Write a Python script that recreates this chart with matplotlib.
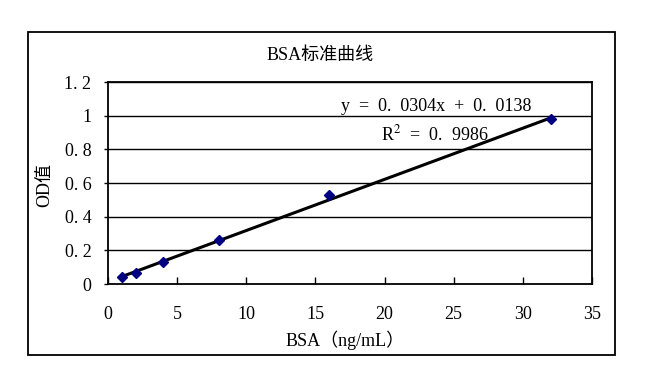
import matplotlib.pyplot as plt
from matplotlib.patches import Rectangle

plt.rcParams['font.family'] = ['Liberation Serif', 'Noto Sans CJK SC']
plt.rcParams['mathtext.fontset'] = 'stix'

# 数据
conc = [1, 2, 4, 8, 16, 32]
od = [0.042, 0.063, 0.129, 0.261, 0.527, 0.978]
slope = 0.0304
intercept = 0.0138
r2 = 0.9986
x_ticks = [0, 5, 10, 15, 20, 25, 30, 35]
y_ticks = [0, 0.2, 0.4, 0.6, 0.8, 1.0, 1.2]
y_tick_labels = ['0', '0. 2', '0. 4', '0. 6', '0. 8', '1', '1. 2']

fig = plt.figure(figsize=(6.64, 3.82), dpi=100)

# 外框
fig.patches.append(Rectangle((0.0422, 0.0707), 0.884, 0.8455, transform=fig.transFigure,
                             fill=False, edgecolor='black', linewidth=1.3))

ax = fig.add_axes([0.1627, 0.2565, 0.7289, 0.5288])

# 网格线
for yv in y_ticks[1:]:
    ax.axhline(yv, color='black', linewidth=1.0, zorder=1)

# 趋势线
line_x = [conc[0], conc[-1]]
line_y = [slope * v + intercept for v in line_x]
ax.plot(line_x, line_y, color='black', linewidth=2.2, zorder=2)

# 数据点
ax.plot(conc, od, linestyle='none', marker='D', markersize=5,
        color='#000080', zorder=3)

ax.set_xlim(0, 35)
ax.set_ylim(0, 1.2)
ax.set_xticks(x_ticks)
ax.set_xticklabels([str(v) for v in x_ticks])
ax.set_yticks(y_ticks)
ax.set_yticklabels(y_tick_labels)
ax.tick_params(axis='x', direction='in', length=5, width=1, pad=16, labelsize=13)
ax.tick_params(axis='y', direction='out', length=3, width=1, pad=9, labelsize=13)
for s in ax.spines.values():
    s.set_linewidth(1.3)

ax.text(23.75, 1.056, 'y  =  0.  0304x  +  0.  0138', fontsize=13, ha='center', va='center')
ax.text(23.65, 0.89, 'R$^{2}$  =  0.  9986', fontsize=13, ha='center', va='center')

fig.text(0.482, 0.856, 'BSA标准曲线', fontsize=13, ha='center', va='center')
fig.text(0.068, 0.515, 'OD值', fontsize=13, ha='center', va='center', rotation=90)
fig.text(0.52, 0.11, 'BSA（ng/mL）', fontsize=13, ha='center', va='center')

fig.savefig('out.png', dpi=100)
